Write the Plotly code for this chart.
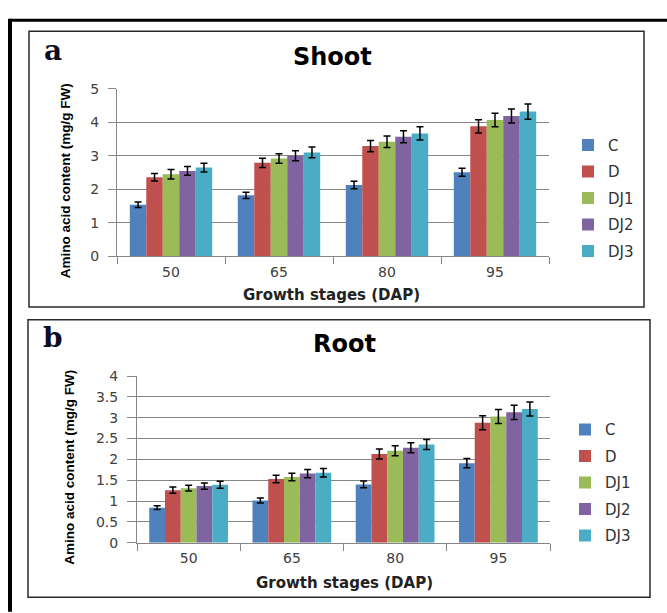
import plotly.graph_objects as go

W, H = 667, 613

stages = ["50", "65", "80", "95"]
series = ["C", "D", "DJ1", "DJ2", "DJ3"]
colors = ["#4F81BD", "#C0504D", "#9BBB59", "#8064A2", "#4BACC6"]

shoot_C = [1.54, 1.82, 2.13, 2.51]
shoot_D = [2.36, 2.79, 3.29, 3.88]
shoot_DJ1 = [2.45, 2.92, 3.42, 4.07]
shoot_DJ2 = [2.55, 3.00, 3.57, 4.19]
shoot_DJ3 = [2.65, 3.10, 3.67, 4.32]
shoot_err_C = [0.08, 0.09, 0.11, 0.12]
shoot_err_D = [0.11, 0.14, 0.17, 0.20]
shoot_err_DJ1 = [0.14, 0.14, 0.17, 0.20]
shoot_err_DJ2 = [0.13, 0.15, 0.18, 0.21]
shoot_err_DJ3 = [0.13, 0.16, 0.20, 0.23]

root_C = [0.84, 1.01, 1.40, 1.91]
root_D = [1.26, 1.53, 2.13, 2.88]
root_DJ1 = [1.31, 1.58, 2.21, 3.03]
root_DJ2 = [1.36, 1.66, 2.28, 3.13]
root_DJ3 = [1.39, 1.68, 2.36, 3.21]
root_err_C = [0.045, 0.06, 0.08, 0.11]
root_err_D = [0.075, 0.09, 0.12, 0.17]
root_err_DJ1 = [0.07, 0.09, 0.12, 0.17]
root_err_DJ2 = [0.075, 0.10, 0.12, 0.17]
root_err_DJ3 = [0.085, 0.10, 0.12, 0.17]

shoot_vals = [shoot_C, shoot_D, shoot_DJ1, shoot_DJ2, shoot_DJ3]
shoot_errs = [shoot_err_C, shoot_err_D, shoot_err_DJ1, shoot_err_DJ2, shoot_err_DJ3]
root_vals = [root_C, root_D, root_DJ1, root_DJ2, root_DJ3]
root_errs = [root_err_C, root_err_D, root_err_DJ1, root_err_DJ2, root_err_DJ3]


def px(x):
    return x / W


def py(y):
    return 1 - y / H


fig = go.Figure()

for i, name in enumerate(series):
    fig.add_trace(go.Bar(
        x=stages, y=shoot_vals[i], name=name, marker=dict(color=colors[i], line=dict(width=0)),
        error_y=dict(type="data", array=shoot_errs[i], color="#000000", thickness=1.5, width=3.5),
        xaxis="x", yaxis="y", legend="legend", legendgroup="a" + name,
    ))
for i, name in enumerate(series):
    fig.add_trace(go.Bar(
        x=stages, y=root_vals[i], name=name, marker=dict(color=colors[i], line=dict(width=0)),
        error_y=dict(type="data", array=root_errs[i], color="#000000", thickness=1.5, width=3.5),
        xaxis="x2", yaxis="y2", legend="legend2", legendgroup="b" + name,
    ))

tick_font = dict(family="DejaVu Sans", size=14, color="#404040")
ytitle_font = dict(family="Liberation Sans Narrow, Liberation Sans, Arial", size=13.5, color="#000000")
xtitle_font = dict(family="DejaVu Sans", size=15, color="#222222")
legend_font = dict(family="DejaVu Sans", size=15, color="#333333")

axis_common = dict(showline=True, linecolor="#868686", linewidth=1, tickcolor="#868686",
                   ticks="outside", tickfont=tick_font)

fig.update_layout(
    width=W, height=H,
    margin=dict(l=0, r=0, t=0, b=0),
    paper_bgcolor="white", plot_bgcolor="white",
    barmode="group", bargap=0.237, bargroupgap=0,
    showlegend=True,
    xaxis=dict(domain=[px(117), px(549)], anchor="y", type="category", tickson="boundaries",
               ticklen=7, showgrid=False, ticklabelstandoff=3, **axis_common),
    yaxis=dict(domain=[py(255), py(83)], anchor="x", range=[0, 5], dtick=1, ticklen=8,
               showgrid=True, gridcolor="#868686", gridwidth=1, zeroline=False,
               ticklabelstandoff=6, **axis_common),
    xaxis2=dict(domain=[px(137), px(550)], anchor="y2", type="category", tickson="boundaries",
                ticklen=7, showgrid=False, ticklabelstandoff=3, **axis_common),
    yaxis2=dict(domain=[py(549), py(378)], anchor="x2", range=[0, 4], dtick=0.5, ticklen=9,
                showgrid=True, gridcolor="#868686", gridwidth=1, zeroline=False,
                ticklabelstandoff=6, **axis_common),
    legend=dict(x=px(568), y=py(124), xanchor="left", yanchor="top", font=legend_font,
                tracegroupgap=4, bgcolor="rgba(0,0,0,0)"),
    legend2=dict(x=px(565), y=py(416), xanchor="left", yanchor="top", font=legend_font,
                 tracegroupgap=4, bgcolor="rgba(0,0,0,0)"),
)

shapes = [
    # outer frame
    dict(type="line", xref="paper", yref="paper", x0=px(10), x1=px(670), y0=py(12.5), y1=py(12.5),
         line=dict(color="#000000", width=3)),
    dict(type="line", xref="paper", yref="paper", x0=px(10), x1=px(10), y0=py(11), y1=py(620),
         line=dict(color="#000000", width=4)),
    # panel boxes
    dict(type="rect", xref="paper", yref="paper", x0=px(29), x1=px(644), y0=py(24), y1=py(307),
         line=dict(color="#2a2a2a", width=1.5)),
    dict(type="rect", xref="paper", yref="paper", x0=px(28), x1=px(650), y0=py(320), y1=py(605),
         line=dict(color="#2a2a2a", width=1.5)),
]
fig.update_layout(shapes=shapes)

ann = []
# panel letters
ann.append(dict(text="<b>a</b>", x=px(53), y=py(44), xref="paper", yref="paper", showarrow=False,
                font=dict(family="DejaVu Serif", size=28, color="#0d0d26"), xanchor="center", yanchor="middle"))
ann.append(dict(text="<b>b</b>", x=px(53), y=py(338), xref="paper", yref="paper", showarrow=False,
                font=dict(family="DejaVu Serif", size=28, color="#0d0d26"), xanchor="center", yanchor="middle"))
# titles
ann.append(dict(text="<b>Shoot</b>", x=px(332), y=py(50), xref="paper", yref="paper", showarrow=False,
                font=dict(family="DejaVu Sans", size=24, color="#000000"), xanchor="center", yanchor="middle"))
ann.append(dict(text="<b>Root</b>", x=px(344), y=py(345), xref="paper", yref="paper", showarrow=False,
                font=dict(family="DejaVu Sans", size=24, color="#000000"), xanchor="center", yanchor="middle"))
# x titles
ann.append(dict(text="<b>Growth stages (DAP)</b>", x=px(331), y=py(295), xref="paper", yref="paper",
                showarrow=False, font=xtitle_font, xanchor="center", yanchor="middle"))
ann.append(dict(text="<b>Growth stages (DAP)</b>", x=px(344), y=py(590), xref="paper", yref="paper",
                showarrow=False, font=xtitle_font, xanchor="center", yanchor="middle"))
# y titles
ann.append(dict(text="<b>Amino acid content (mg/g FW)</b>", x=px(65), y=py(178), xref="paper", yref="paper",
                showarrow=False, textangle=-90, font=ytitle_font, xanchor="center", yanchor="middle"))
ann.append(dict(text="<b>Amino acid content (mg/g FW)</b>", x=px(70), y=py(472), xref="paper", yref="paper",
                showarrow=False, textangle=-90, font=ytitle_font, xanchor="center", yanchor="middle"))
fig.update_layout(annotations=ann)

fig.write_html("out.html", config={"displayModeBar": False},
               post_script="document.body.style.margin='0px';")
